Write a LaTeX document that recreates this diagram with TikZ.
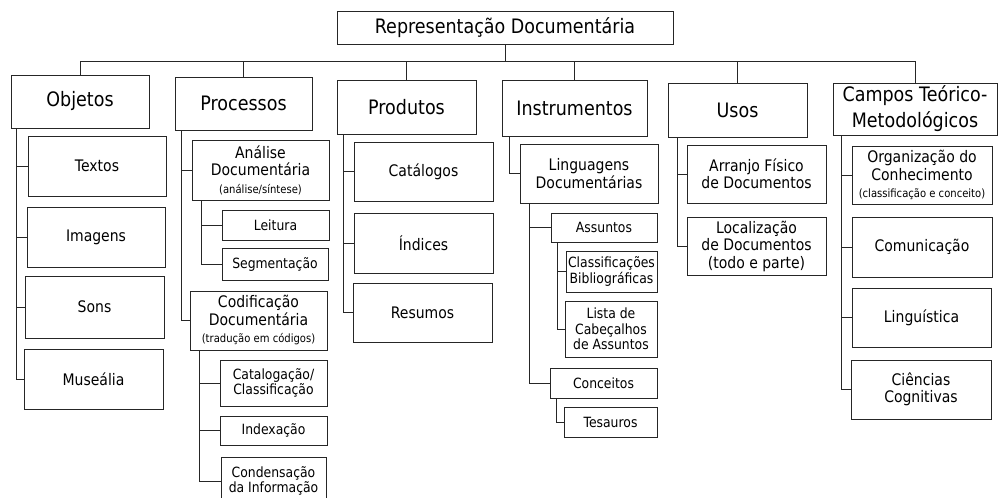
\documentclass[tikz,border=0pt]{standalone}
\usepackage{fontspec}
\setmainfont{DejaVu Sans}[FakeStretch=0.88]
\usetikzlibrary{positioning}

\newcommand{\sml}[1]{{\fontsize{11.4}{12.5}\selectfont #1}}

\begin{document}
\begin{tikzpicture}[
    x=1pt, y=-1pt,
    boxbase/.style={draw=black!85, line width=0.9pt, align=center, inner sep=1pt},
    lvone/.style={boxbase, font=\fontsize{19.9}{26}\selectfont},
    lvtwo/.style={boxbase, font=\fontsize{15.9}{17.5}\selectfont},
    lvthree/.style={boxbase, font=\fontsize{14.1}{15.5}\selectfont},
    tie/.style={draw=black!85, line width=0.9pt}
]
\useasboundingbox (0,0) rectangle (999,498);
\clip (0,0) rectangle (999,498);

% root
\node[lvone, minimum width=336pt, minimum height=33pt] (root) at (505,27.5) {Representação Documentária};
\coordinate (bus) at (505,61);

% first level
\node[lvone, minimum width=138pt, minimum height=53pt] (obj) at (80,101.5) {Objetos};
\node[lvone, minimum width=137pt, minimum height=53pt] (proc) at (243.5,103.5) {Processos};
\node[lvone, minimum width=139pt, minimum height=54pt] (prod) at (406.5,107) {Produtos};
\node[lvone, minimum width=145pt, minimum height=56pt] (inst) at (574.5,108) {Instrumentos};
\node[lvone, minimum width=139pt, minimum height=54pt] (usos) at (737.5,110) {Usos};
\node[lvone, minimum width=164pt, minimum height=52pt] (camp) at (915,109) {Campos Teórico-\\Metodológicos};

\draw[tie] (root.south) -- (bus);
\foreach \n in {obj,proc,prod,inst,usos,camp}
    \draw[tie] (\n.north) |- (bus);

% Objetos
\node[lvtwo, minimum width=138pt, minimum height=60pt] (txt) at (97,166) {Textos};
\node[lvtwo, minimum width=138pt, minimum height=60pt] (img) at (96,237) {Imagens};
\node[lvtwo, minimum width=139pt, minimum height=62pt] (sons) at (94.5,307) {Sons};
\node[lvtwo, minimum width=139pt, minimum height=60pt] (mus) at (93.5,379) {Museália};
\foreach \n in {txt,img,sons,mus}
    \draw[tie] ([xshift=6pt]obj.south west) |- (\n.west);

% Processos
\node[lvtwo, minimum width=137pt, minimum height=60pt] (anl) at (260.5,170) {Análise\\Documentária\\\sml{(análise/síntese)}};
\node[lvthree, minimum width=107pt, minimum height=30pt] (leit) at (275.5,225) {Leitura};
\node[lvthree, minimum width=106pt, minimum height=32pt] (seg) at (275,264) {Segmentação};
\node[lvtwo, minimum width=137pt, minimum height=59pt] (cod) at (258.5,320.5) {Codificação\\Documentária\\\sml{(tradução em códigos)}};
\node[lvthree, minimum width=107pt, minimum height=46pt] (cat) at (273.5,383) {Catalogação/\\Classificação};
\node[lvthree, minimum width=107pt, minimum height=29pt] (idx) at (273.5,430.5) {Indexação};
\node[lvthree, minimum width=105pt, minimum height=48pt] (cond) at (273.5,481) {Condensação\\da Informação};
\foreach \n in {anl,cod}
    \draw[tie] ([xshift=7pt]proc.south west) |- (\n.west);
\foreach \n in {leit,seg}
    \draw[tie] ([xshift=10pt]anl.south west) |- (\n.west);
\foreach \n in {cat,idx,cond}
    \draw[tie] ([xshift=10pt]cod.south west) |- (\n.west);

% Produtos
\node[lvtwo, minimum width=139pt, minimum height=59pt] (catl) at (423.5,171.5) {Catálogos};
\node[lvtwo, minimum width=139pt, minimum height=60pt] (ind) at (423.5,243) {Índices};
\node[lvtwo, minimum width=139pt, minimum height=59pt] (res) at (422.5,312.5) {Resumos};
\foreach \n in {catl,ind,res}
    \draw[tie] ([xshift=7pt]prod.south west) |- (\n.west);

% Instrumentos
\node[lvtwo, minimum width=138pt, minimum height=59pt] (ling) at (589,173.5) {Linguagens\\Documentárias};
\node[lvthree, minimum width=106pt, minimum height=29pt] (ass) at (604,227.5) {Assuntos};
\node[lvthree, minimum width=91pt, minimum height=41pt] (clb) at (611.5,271.5) {Classificações\\Bibliográficas};
\node[lvthree, minimum width=92pt, minimum height=56pt] (lst) at (611,329) {Lista de\\Cabeçalhos\\de Assuntos};
\node[lvthree, minimum width=107pt, minimum height=30pt] (conc) at (603.5,383) {Conceitos};
\node[lvthree, minimum width=93pt, minimum height=30pt] (tes) at (610.5,422) {Tesauros};
\draw[tie] ([xshift=8pt]inst.south west) |- (ling.west);
\foreach \n in {ass,conc}
    \draw[tie] ([xshift=10pt]ling.south west) |- (\n.west);
\foreach \n in {clb,lst}
    \draw[tie] ([xshift=7pt]ass.south west) |- (\n.west);
\draw[tie] ([xshift=7pt]conc.south west) |- (tes.west);

% Usos
\node[lvtwo, minimum width=139pt, minimum height=58pt] (arr) at (756.5,174) {Arranjo Físico\\de Documentos};
\node[lvtwo, minimum width=139pt, minimum height=58pt] (loc) at (756.5,246) {Localização\\de Documentos\\(todo e parte)};
\foreach \n in {arr,loc}
    \draw[tie] ([xshift=10pt]usos.south west) |- (\n.west);

% Campos
\node[lvtwo, minimum width=140pt, minimum height=58pt] (org) at (922,175) {Organização do\\Conhecimento\\\sml{(classificação e conceito)}};
\node[lvtwo, minimum width=140pt, minimum height=60pt] (com) at (922,247) {Comunicação};
\node[lvtwo, minimum width=139pt, minimum height=59pt] (lin) at (921.5,317.5) {Linguística};
\node[lvtwo, minimum width=140pt, minimum height=59pt] (cog) at (921,389.5) {Ciências\\Cognitivas};
\foreach \n in {org,com,lin,cog}
    \draw[tie] ([xshift=9pt]camp.south west) |- (\n.west);
\end{tikzpicture}
\end{document}
